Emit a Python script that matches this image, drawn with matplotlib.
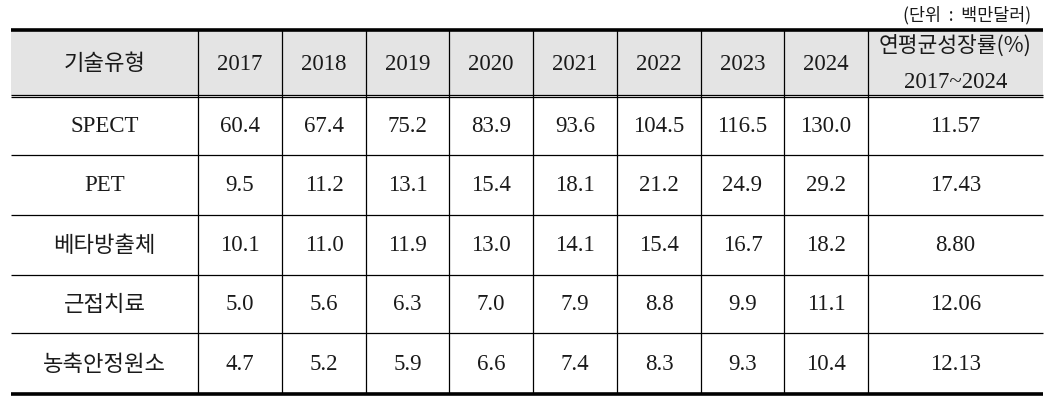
import matplotlib.pyplot as plt

years = ['2017', '2018', '2019', '2020', '2021', '2022', '2023', '2024']
types = ['SPECT', 'PET', '베타방출체', '근접치료', '농축안정원소']
spect = [60.4, 67.4, 75.2, 83.9, 93.6, 104.5, 116.5, 130.0]
pet = [9.5, 11.2, 13.1, 15.4, 18.1, 21.2, 24.9, 29.2]
beta = [10.1, 11.0, 11.9, 13.0, 14.1, 15.4, 16.7, 18.2]
brachy = [5.0, 5.6, 6.3, 7.0, 7.9, 8.8, 9.9, 11.1]
isotope = [4.7, 5.2, 5.9, 6.6, 7.4, 8.3, 9.3, 10.4]
cagr = [11.57, 17.43, 8.80, 12.06, 12.13]
rows = [spect, pet, beta, brachy, isotope]

kr = ['Noto Sans CJK KR', 'DejaVu Sans']
num = ['Liberation Serif', 'DejaVu Serif']
ink = '#1a1a1a'

# layout in pixels
col_edges = [11, 198, 282, 366, 449, 533, 617, 701, 784, 868, 1043]
row_edges = [31, 97, 156, 216, 276, 334, 395]

fig = plt.figure(figsize=(10.57, 4.10), dpi=100)
ax = fig.add_axes([0, 0, 1, 1])
ax.set_xlim(0, 1057)
ax.set_ylim(410, 0)
ax.axis('off')

# header background
ax.fill_between([col_edges[0], col_edges[-1]], row_edges[0], row_edges[1],
                color='#e4e4e4', lw=0)

# horizontal rules
ax.hlines(row_edges[0], col_edges[0], col_edges[-1], color='black', lw=2.6)
ax.hlines(row_edges[-1], col_edges[0], col_edges[-1], color='black', lw=2.6)
ax.hlines([row_edges[1] - 1, row_edges[1] + 1.2], col_edges[0], col_edges[-1],
          color='black', lw=0.9)
ax.hlines(row_edges[2:-1], col_edges[0], col_edges[-1], color='black', lw=0.9)

# vertical rules (no outer borders)
ax.vlines(col_edges[1:-1], row_edges[0], row_edges[-1], color='black', lw=0.9)

def cx(i):
    return (col_edges[i] + col_edges[i + 1]) / 2

def cy(j):
    return (row_edges[j] + row_edges[j + 1]) / 2

# header
hy = cy(0)
ax.text(cx(0), hy, '기술유형', ha='center', va='center', fontsize=16,
        family=kr, weight='medium', color=ink)
for i, y in enumerate(years):
    ax.text(cx(i + 1), hy, y, ha='center', va='center', fontsize=16.5,
            family=num, color=ink)
ax.text(cx(9), 46, '연평균성장률(%)', ha='center', va='center', fontsize=15.5,
        family=kr, weight='medium', color=ink)
ax.text(cx(9), 82, '2017~2024', ha='center', va='center', fontsize=16.5,
        family=num, color=ink)

# body
for j, (name, vals) in enumerate(zip(types, rows)):
    y = cy(j + 1)
    fam = num if name.isascii() else kr
    fs = 16.5 if name.isascii() else 16
    ax.text(cx(0), y, name, ha='center', va='center', fontsize=fs,
            family=fam, color=ink)
    for i, v in enumerate(vals):
        ax.text(cx(i + 1), y, f'{v:.1f}', ha='center', va='center',
                fontsize=16.5, family=num, color=ink)
    ax.text(cx(9), y, f'{cagr[j]:.2f}', ha='center', va='center',
            fontsize=16.5, family=num, color=ink)

ax.text(1031, 15, '(단위  :  백만달러)', ha='right', va='center', fontsize=12.5,
        family=kr, color=ink)

fig.savefig('out.png', dpi=100)
